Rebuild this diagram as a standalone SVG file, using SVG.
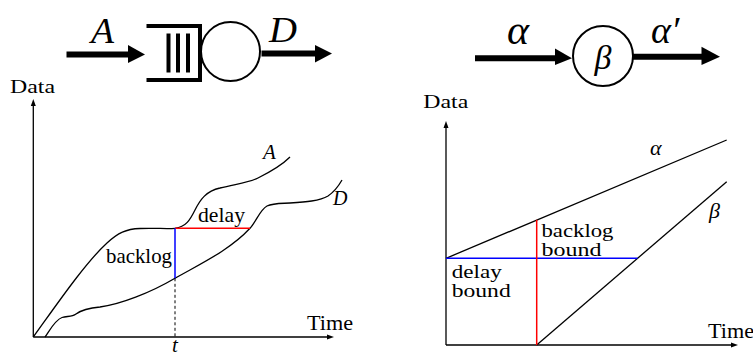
<svg xmlns="http://www.w3.org/2000/svg" width="753" height="356" viewBox="0 0 753 356">
<style>
text{font-family:"Liberation Serif","DejaVu Serif",serif;fill:#000}
.it{font-style:italic}
.ln{fill:none;stroke:#000;stroke-width:1.3}
.ax{fill:none;stroke:#000;stroke-width:1.3}
.big{fill:none;stroke:#000;stroke-width:6}
.head{fill:#000;stroke:none}
.red{fill:none;stroke:#ff0000;stroke-width:1.5}
.blue{fill:none;stroke:#0000ff;stroke-width:1.5}
</style>
<rect width="753" height="356" fill="#fff"/>
<g font-family="Liberation Serif, DejaVu Serif, serif">
<!-- top-left queue system -->
<g id="queue">
  <polyline points="146.5,26 200,26 200,80 146.5,80" fill="none" stroke="#000" stroke-width="4"/>
  <line x1="168.5" y1="33.5" x2="168.5" y2="72.5" stroke="#000" stroke-width="4"/>
  <line x1="178" y1="33.5" x2="178" y2="72.5" stroke="#000" stroke-width="4"/>
  <line x1="188" y1="33.5" x2="188" y2="72.5" stroke="#000" stroke-width="4"/>
</g>
<g id="server">
  <circle cx="230.5" cy="51.5" r="29.5" fill="none" stroke="#000" stroke-width="2"/>
</g>
<g id="top-left-connectors">
  <line class="big" x1="66.5" y1="54.5" x2="130" y2="54.5"/>
  <polygon class="head" points="128,45 145,54.5 128,63"/>
  <line class="big" x1="261.5" y1="53.5" x2="317" y2="53.5"/>
  <polygon class="head" points="315,45 332,53.5 315,62.5"/>
</g>
<text class="it" x="91" y="43" font-size="36" textLength="23" lengthAdjust="spacingAndGlyphs">A</text>
<text class="it" x="269" y="42" font-size="35" textLength="28" lengthAdjust="spacingAndGlyphs">D</text>

<!-- top-right network calculus node -->
<g id="beta-node">
  <circle cx="603" cy="56" r="30" fill="none" stroke="#000" stroke-width="2"/>
  <text class="it" x="603" y="69" font-size="34" text-anchor="middle">β</text>
</g>
<g id="top-right-connectors">
  <line class="big" x1="475" y1="58.3" x2="557" y2="58.3"/>
  <polygon class="head" points="555,48.5 572,58.3 555,65"/>
  <line class="big" x1="633" y1="56.7" x2="703" y2="56.7"/>
  <polygon class="head" points="701.5,46.7 720,56.7 701.5,65"/>
</g>
<text class="it" x="507" y="44" font-size="42">α</text>
<text class="it" x="651" y="43" font-size="38">α′</text>

<!-- left graph -->
<g id="left-graph">
  <line class="ax" x1="33.3" y1="337" x2="33.3" y2="104"/>
  <polygon class="head" points="33.3,99 30.8,106 35.8,106"/>
  <line class="ax" x1="33.3" y1="337" x2="329" y2="337"/>
  <polygon class="head" points="334,337 327,334.5 327,339.5"/>
  <path class="ln" d="M33.3,337 C55,307 85,263 107,243 C118,233 126,229 140,228.5 C155,228 168,229 175,228.3 C186,227 190,220 195,210 C200,200 206,191 220,188 C235,184 248,183 258,178 C270,172 282,165 290,157"/>
  <path class="ln" d="M45,337 C50,330 55,320 62,317.5 C67,316 72,317 76,314 C80,311 88,308 100,307 C120,304.5 150,293 175,278.3 C200,264 230,250 250,228.3 C257,220 260,210 267,206 C273,203 282,203.5 290,203 C305,202 320,201 328,196 C334,192 338,187 342,180"/>
  <line class="red" x1="175" y1="228.3" x2="250" y2="228.3"/>
  <line class="blue" x1="175" y1="228.3" x2="175" y2="278.3"/>
  <line x1="175" y1="278.3" x2="175" y2="337" stroke="#000" stroke-width="1" stroke-dasharray="3,2.5"/>
  <text x="10" y="93" font-size="19" textLength="45" lengthAdjust="spacingAndGlyphs">Data</text>
  <text x="307" y="330" font-size="20" textLength="46" lengthAdjust="spacingAndGlyphs">Time</text>
  <text class="it" x="172" y="352" font-size="21">t</text>
  <text x="106" y="263" font-size="21" textLength="66" lengthAdjust="spacingAndGlyphs">backlog</text>
  <text x="198" y="221.5" font-size="21" textLength="47" lengthAdjust="spacingAndGlyphs">delay</text>
  <text class="it" x="263" y="159" font-size="21">A</text>
  <text class="it" x="333" y="205" font-size="20">D</text>
</g>

<!-- right graph -->
<g id="right-graph">
  <line class="ax" x1="446" y1="345" x2="446" y2="126"/>
  <polygon class="head" points="446,121 443.5,128 448.5,128"/>
  <line class="ax" x1="446" y1="345" x2="733" y2="345"/>
  <polygon class="head" points="738,345 731,342.5 731,347.5"/>
  <line class="ln" x1="446" y1="258.3" x2="726.7" y2="140"/>
  <line class="ln" x1="536.7" y1="345" x2="726.7" y2="181.7"/>
  <line class="blue" x1="446" y1="258.3" x2="637.5" y2="258.3"/>
  <line class="red" x1="536.7" y1="345" x2="536.7" y2="219.8"/>
  <text x="423.3" y="108.3" font-size="19" textLength="45" lengthAdjust="spacingAndGlyphs">Data</text>
  <text x="708" y="338" font-size="20" textLength="46" lengthAdjust="spacingAndGlyphs">Time</text>
  <text class="it" x="650" y="155" font-size="22">α</text>
  <text class="it" x="709" y="218" font-size="22">β</text>
  <text x="541.5" y="237" font-size="18" textLength="72" lengthAdjust="spacingAndGlyphs">backlog</text>
  <text x="541.5" y="255.5" font-size="18" textLength="60" lengthAdjust="spacingAndGlyphs">bound</text>
  <text x="451.7" y="277.5" font-size="18" textLength="50" lengthAdjust="spacingAndGlyphs">delay</text>
  <text x="451.7" y="296.7" font-size="18" textLength="59" lengthAdjust="spacingAndGlyphs">bound</text>
</g>
</g>
</svg>
